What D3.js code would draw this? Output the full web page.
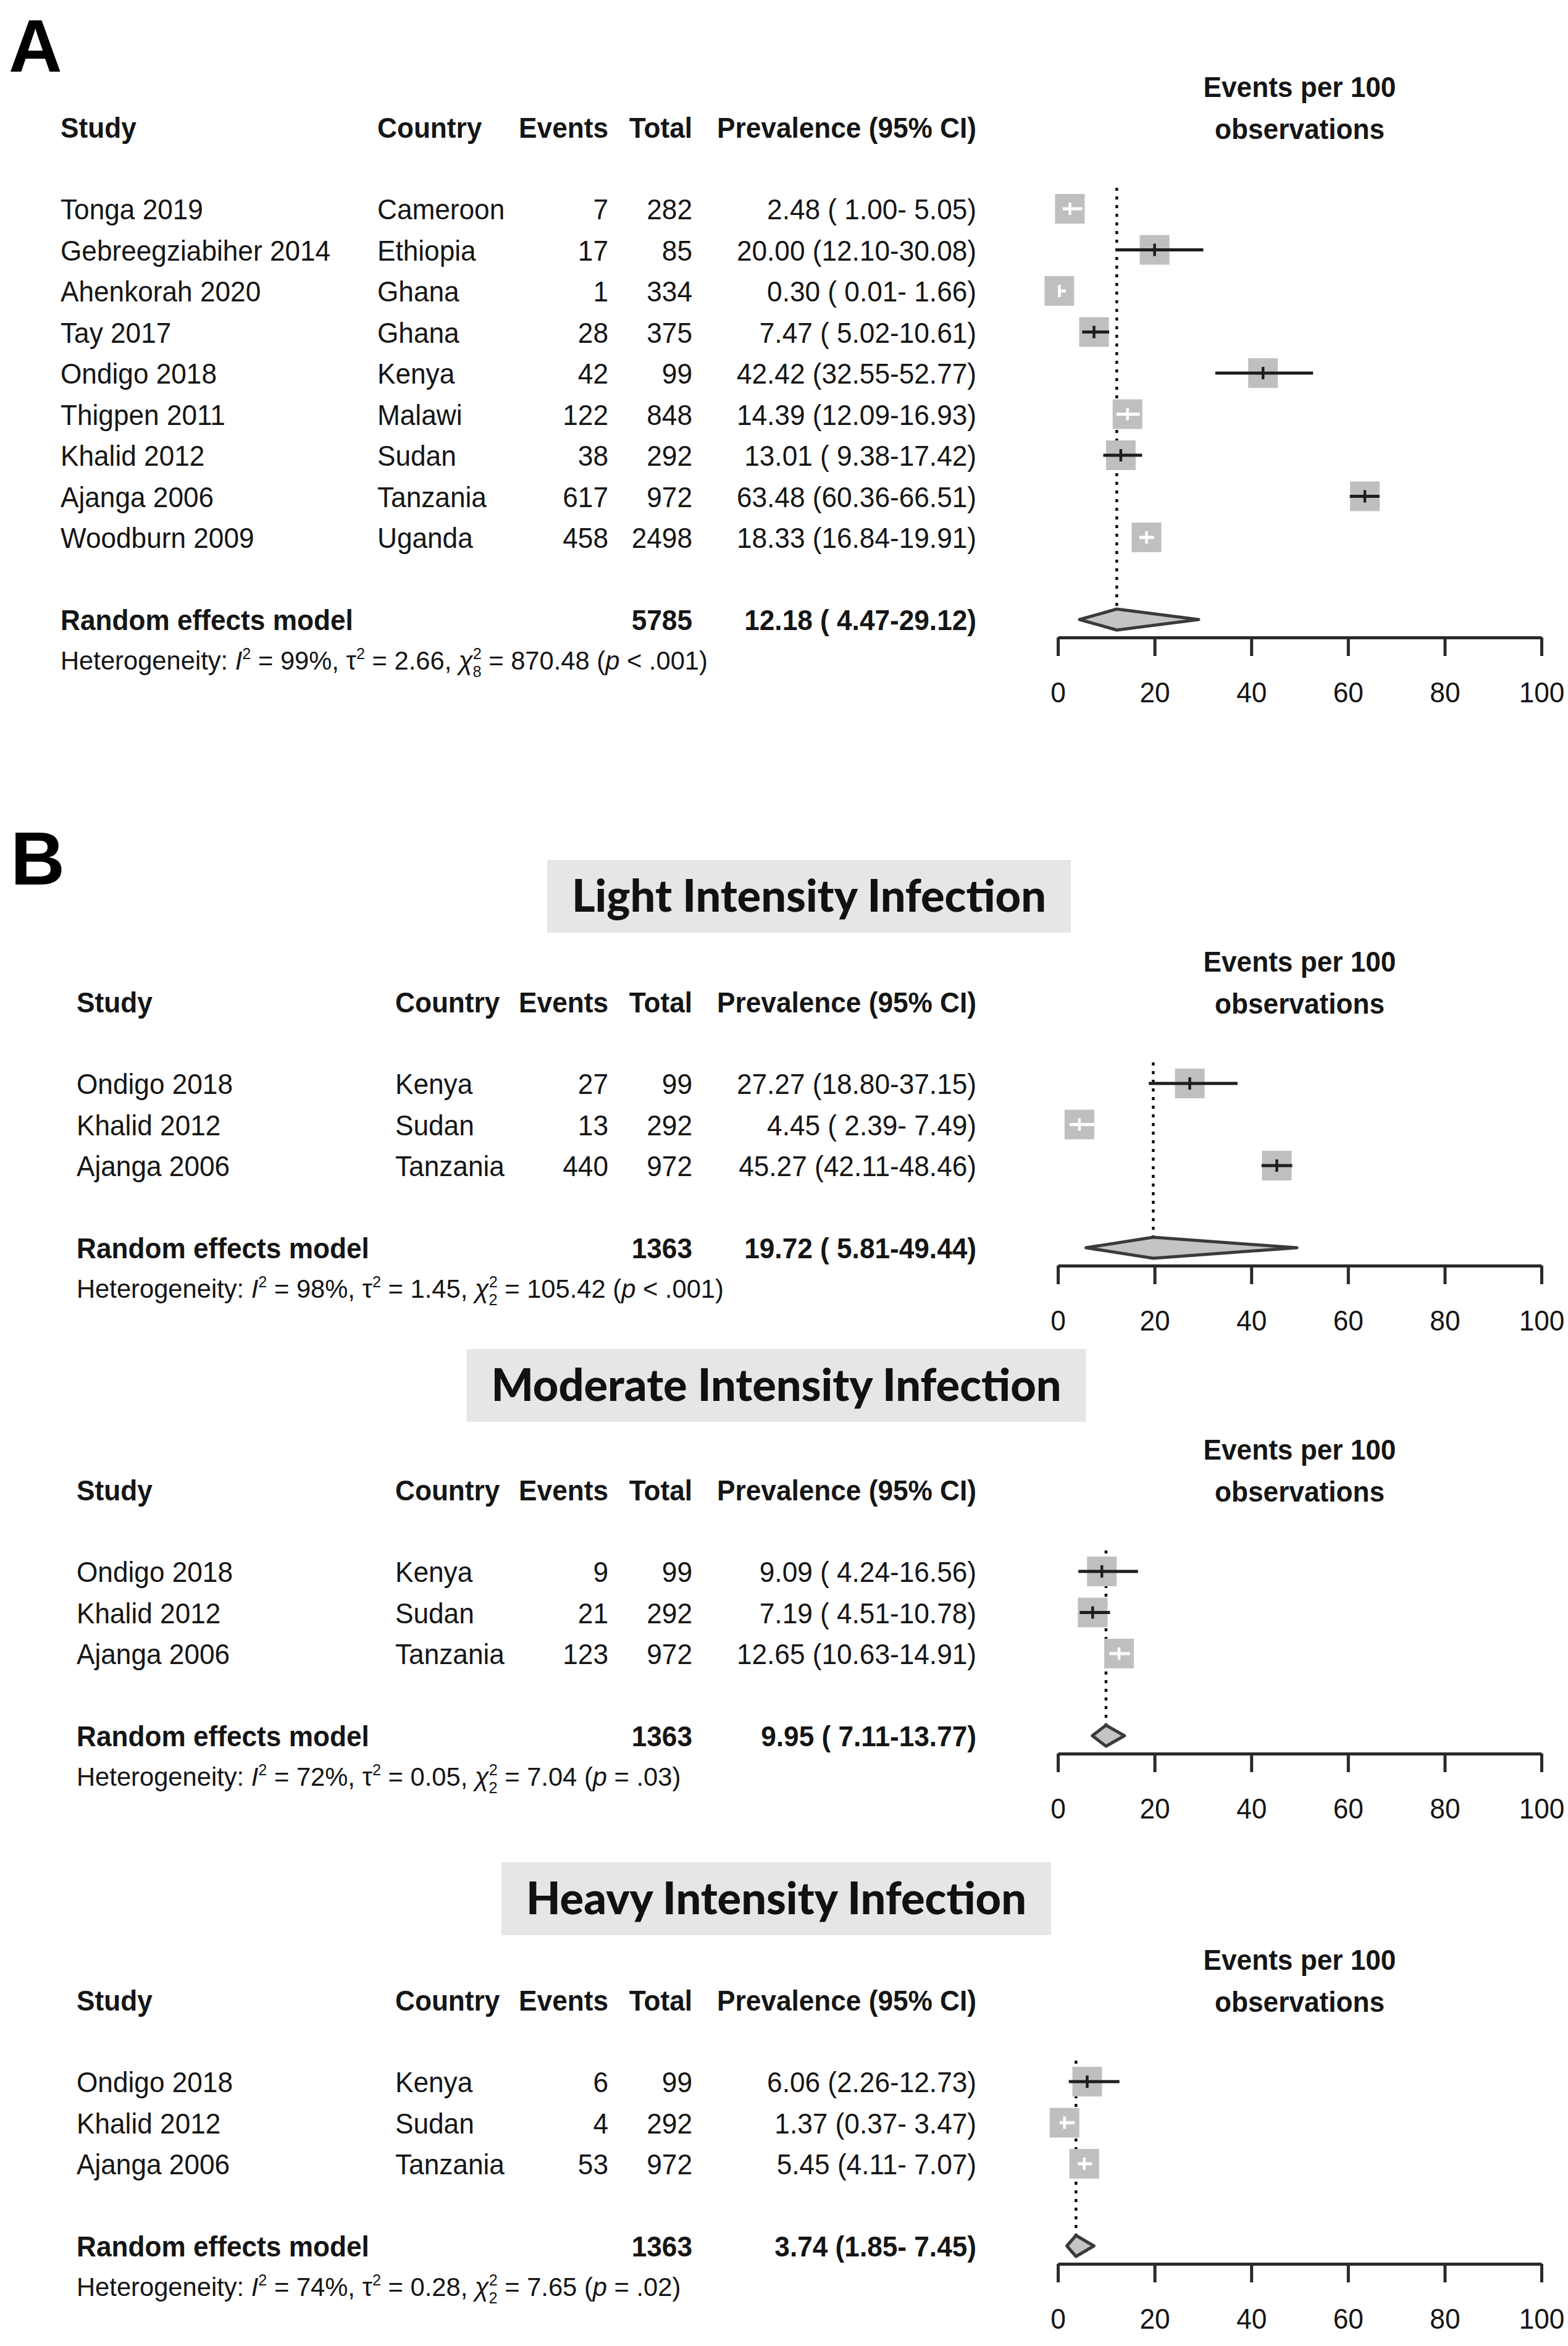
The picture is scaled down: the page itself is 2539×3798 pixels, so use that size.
<!DOCTYPE html>
<html><head><meta charset="utf-8">
<script src="https://cdn.jsdelivr.net/npm/d3@7/dist/d3.min.js"></script>
<style>body{margin:0;background:#fff} text{white-space:pre}</style>
</head><body>
<script>
// ---------------- DATA ----------------
const studiesA   = ["Tonga 2019","Gebreegziabiher 2014","Ahenkorah 2020","Tay 2017","Ondigo 2018","Thigpen 2011","Khalid 2012","Ajanga 2006","Woodburn 2009"];
const countriesA = ["Cameroon","Ethiopia","Ghana","Ghana","Kenya","Malawi","Sudan","Tanzania","Uganda"];
const eventsA    = [7,17,1,28,42,122,38,617,458];
const totalsA    = [282,85,334,375,99,848,292,972,2498];
const prevA      = [2.48,20.00,0.30,7.47,42.42,14.39,13.01,63.48,18.33];
const lowerA     = [1.00,12.10,0.01,5.02,32.55,12.09,9.38,60.36,16.84];
const upperA     = [5.05,30.08,1.66,10.61,52.77,16.93,17.42,66.51,19.91];

const studiesB   = ["Ondigo 2018","Khalid 2012","Ajanga 2006"];
const countriesB = ["Kenya","Sudan","Tanzania"];
const totalsB    = [99,292,972];

const eventsLight = [27,13,440];
const prevLight   = [27.27,4.45,45.27];
const lowerLight  = [18.80,2.39,42.11];
const upperLight  = [37.15,7.49,48.46];

const eventsModerate = [9,21,123];
const prevModerate   = [9.09,7.19,12.65];
const lowerModerate  = [4.24,4.51,10.63];
const upperModerate  = [16.56,10.78,14.91];

const eventsHeavy = [6,4,53];
const prevHeavy   = [6.06,1.37,5.45];
const lowerHeavy  = [2.26,0.37,4.11];
const upperHeavy  = [12.73,3.47,7.07];

// pooled (random effects) results, panels A, Light, Moderate, Heavy
const pooledTotal = [5785,1363,1363,1363];
const pooledEst   = [12.18,19.72,9.95,3.74];
const pooledLower = [4.47,5.81,7.11,1.85];
const pooledUpper = [29.12,49.44,13.77,7.45];

// heterogeneity
const hetI2  = ["99%","98%","72%","74%"];
const hetTau = ["2.66","1.45","0.05","0.28"];
const hetDf  = ["8","2","2","2"];
const hetQ   = ["870.48","105.42","7.04","7.65"];
const hetP   = ["< .001","< .001","= .03","= .02"];

const titlesB = ["Light Intensity Infection","Moderate Intensity Infection","Heavy Intensity Infection"];
const tickValues = [0,20,40,60,80,100];

// ---------------- LAYOUT ----------------
const W = 2539, H = 3798;
const headerY  = [206, 1622, 2412, 3238];
const studyX   = [98, 124, 124, 124];
const countryX = [611, 640, 640, 640];
const titleCY  = [null, 1451, 2243, 3074];
const titleCX  = [null, 1310, 1257, 1257];
const eventsR = 985, totalR = 1121, prevR = 1581;
const FS = 47, SX = 0.94;
const ROW = 66.5;
const SQ = 48;
const INK = "#151515";

const x = d3.scaleLinear().domain([0,100]).range([1713, 2496]);

const svg = d3.select("body").append("svg")
  .attr("width", W).attr("height", H)
  .style("font-family", "'Liberation Sans', Arial, sans-serif");
svg.append("rect").attr("width", W).attr("height", H).attr("fill", "#fff");

function label(g, xp, yp, s, anchor, bold, size, sx) {
  return g.append("text")
    .attr("transform", `translate(${xp},${yp}) scale(${sx || SX},1)`)
    .attr("text-anchor", anchor || "start")
    .attr("font-size", size || FS)
    .attr("font-weight", bold ? "bold" : "normal")
    .attr("fill", INK)
    .text(s);
}

function fmtCI(est, lo, hi, loW, hiW) {
  const f = d3.format(".2f");
  return `${f(est)} (${f(lo).padStart(loW," ")}-${f(hi).padStart(hiW," ")})`;
}

const panels = [
  {studies: studiesA, countries: countriesA, events: eventsA, totals: totalsA, prev: prevA, lo: lowerA, hi: upperA},
  {studies: studiesB, countries: countriesB, events: eventsLight, totals: totalsB, prev: prevLight, lo: lowerLight, hi: upperLight},
  {studies: studiesB, countries: countriesB, events: eventsModerate, totals: totalsB, prev: prevModerate, lo: lowerModerate, hi: upperModerate},
  {studies: studiesB, countries: countriesB, events: eventsHeavy, totals: totalsB, prev: prevHeavy, lo: lowerHeavy, hi: upperHeavy}
];

// panel letters
svg.append("text").attr("x", 14).attr("y", 116).attr("font-size", 120).attr("font-weight", "bold").attr("fill", "#000").text("A");
svg.append("text").attr("x", 17).attr("y", 1432).attr("font-size", 122).attr("font-weight", "bold").attr("fill", "#000").text("B");

panels.forEach((p, k) => {
  const g = svg.append("g");
  const hy = headerY[k];
  const n = p.studies.length;
  const rowY = i => hy + 132 + i * ROW;
  const ry = rowY(n - 1) + 133;
  const hetY = ry + 66;
  const axisY = ry + 29;
  const B = 17; // baseline offset from row centre

  // subgroup title box
  if (k > 0) {
    const tg = g.append("g");
    const rect = tg.append("rect").attr("fill", "#e6e6e6");
    const t = tg.append("text")
      .attr("x", titleCX[k]).attr("y", titleCY[k] + 25)
      .attr("text-anchor", "middle")
      .attr("font-family", "Lato, 'Open Sans', sans-serif")
      .attr("font-weight", 900).attr("font-size", 72).attr("fill", "#111")
      .text(titlesB[k - 1]);
    const bb = t.node().getBBox();
    rect.attr("x", bb.x - 40).attr("width", bb.width + 80)
        .attr("y", titleCY[k] - 59).attr("height", 118);
  }

  // headers
  label(g, studyX[k], hy + B, "Study", "start", true);
  label(g, countryX[k], hy + B, "Country", "start", true);
  label(g, eventsR, hy + B, "Events", "end", true);
  label(g, totalR, hy + B, "Total", "end", true);
  label(g, prevR, hy + B, "Prevalence (95% CI)", "end", true);
  label(g, (x(0) + x(100)) / 2, hy - 66 + B, "Events per 100", "middle", true);
  label(g, (x(0) + x(100)) / 2, hy + B + 2, "observations", "middle", true);

  // column text
  const loW = d3.max(p.lo.map(v => d3.format(".2f")(v).length));
  const hiW = d3.max(p.hi.map(v => d3.format(".2f")(v).length));
  p.studies.forEach((s, i) => {
    const yy = rowY(i) + B;
    label(g, studyX[k], yy, s, "start", false);
    label(g, countryX[k], yy, p.countries[i], "start", false);
    label(g, eventsR, yy, String(p.events[i]), "end", false);
    label(g, totalR, yy, String(p.totals[i]), "end", false);
    label(g, prevR, yy, fmtCI(p.prev[i], p.lo[i], p.hi[i], loW, hiW), "end", false);
  });
  label(g, studyX[k], ry + B, "Random effects model", "start", true);
  label(g, totalR, ry + B, String(pooledTotal[k]), "end", true);
  label(g, prevR, ry + B, fmtCI(pooledEst[k], pooledLower[k], pooledUpper[k], loW, hiW), "end", true);

  // heterogeneity line
  const hs = 43, sup = 26;
  const ht = g.append("text")
    .attr("transform", `translate(${studyX[k]},${hetY + 15}) scale(0.97,1)`)
    .attr("font-size", hs).attr("fill", INK);
  ht.append("tspan").text("Heterogeneity: ");
  ht.append("tspan").attr("font-style", "italic").text("I");
  ht.append("tspan").attr("font-size", sup).attr("dy", -17).text("2");
  ht.append("tspan").attr("dy", 17).text(` = ${hetI2[k]}, `);
  ht.append("tspan").text("\u03C4");
  ht.append("tspan").attr("font-size", sup).attr("dy", -17).text("2");
  ht.append("tspan").attr("dy", 17).text(` = ${hetTau[k]}, `);
  ht.append("tspan").attr("font-style", "italic").text("\u03C7");
  ht.append("tspan").attr("font-size", sup).attr("dy", -17).text("2");
  ht.append("tspan").attr("font-size", sup).attr("dx", -14.5).attr("dy", 29).text(hetDf[k]);
  ht.append("tspan").attr("dy", -12).text(` = ${hetQ[k]} (`);
  ht.append("tspan").attr("font-style", "italic").text("p");
  ht.append("tspan").text(` ${hetP[k]})`);

  // forest: dotted reference line at pooled estimate
  g.append("line")
    .attr("x1", x(pooledEst[k])).attr("x2", x(pooledEst[k]))
    .attr("y1", rowY(0) - 34).attr("y2", ry - 17)
    .attr("stroke", "#111").attr("stroke-width", 4.5).attr("stroke-dasharray", "5 9");

  // squares and CIs
  const half = SQ / 2;
  p.prev.forEach((v, i) => {
    const cy = rowY(i);
    const inside = x(p.lo[i]) >= x(v) - half && x(p.hi[i]) <= x(v) + half;
    const col = inside ? "#ffffff" : "#1e1e1e";
    g.append("rect")
      .attr("x", x(v) - half).attr("y", cy - half)
      .attr("width", SQ).attr("height", SQ).attr("fill", "#bfbfbf");
    g.append("line")
      .attr("x1", x(p.lo[i])).attr("x2", x(p.hi[i]))
      .attr("y1", cy).attr("y2", cy)
      .attr("stroke", col).attr("stroke-width", 5);
    g.append("line")
      .attr("x1", x(v)).attr("x2", x(v))
      .attr("y1", cy - 10).attr("y2", cy + 10)
      .attr("stroke", col).attr("stroke-width", 4.5);
  });

  // diamond
  const dh = 17;
  g.append("polygon")
    .attr("points", [
      [x(pooledLower[k]), ry], [x(pooledEst[k]), ry - dh],
      [x(pooledUpper[k]), ry], [x(pooledEst[k]), ry + dh]
    ].map(d => d.join(",")).join(" "))
    .attr("fill", "#c4c4c4").attr("stroke", "#3a3a3a").attr("stroke-width", 5)
    .attr("stroke-linejoin", "round");

  // axis
  const ax = g.append("g").attr("transform", `translate(0,${axisY})`)
    .call(d3.axisBottom(x).tickValues(tickValues).tickSize(30).tickSizeOuter(0).tickPadding(42));
  ax.select(".domain").attr("stroke", "#2a2a2a").attr("stroke-width", 5);
  ax.selectAll(".tick line").attr("stroke", "#2a2a2a").attr("stroke-width", 5);
  ax.selectAll(".tick text")
    .attr("font-size", FS).attr("fill", INK)
    .attr("font-family", "'Liberation Sans', Arial, sans-serif")
    .attr("transform", `scale(${SX},1)`);
});
</script>
</body></html>
